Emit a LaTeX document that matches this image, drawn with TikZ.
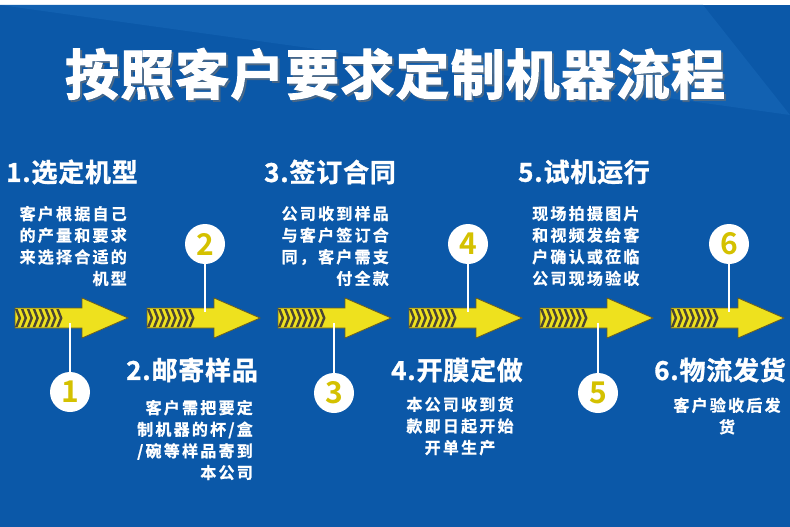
\documentclass[tikz,border=0pt]{standalone}
\usepackage{fontspec}
\setmainfont{Noto Sans CJK SC}[BoldFont={* Bold}]
\newfontfamily\titlefont{Noto Sans CJK SC}[BoldFont={* Bold},BoldFeatures={FakeBold=2},LetterSpace=2]
\newfontfamily\headfont{Noto Sans CJK SC}[BoldFont={* Bold},BoldFeatures={FakeBold=1.2},LetterSpace=3]
\newfontfamily\descfont{Noto Sans CJK SC}[BoldFont={* Bold},BoldFeatures={FakeBold=1},LetterSpace=14]
\definecolor{bgblue}{HTML}{0B58A8}
\definecolor{bglight}{HTML}{1261B1}
\definecolor{arrowyellow}{HTML}{EEE11E}
\definecolor{arrowedge}{HTML}{6B5E22}
\definecolor{chevdark}{HTML}{4A4535}
\definecolor{numyellow}{HTML}{D4C100}
\begin{document}
\begin{tikzpicture}[x=1pt,y=-1pt,
  titletext/.style={font=\titlefont\bfseries\fontsize{54}{60}\selectfont, inner sep=0},
  heading/.style={font=\headfont\bfseries\fontsize{26}{30}\selectfont, text=white, inner sep=0},
  desc/.style={font=\descfont\bfseries\fontsize{16}{21.6}\selectfont, text=white, inner sep=0},
  stepnum/.style={circle, fill=white, minimum size=40pt, inner sep=0,
    font=\bfseries\fontsize{30}{30}\selectfont, text=numyellow},
  link/.style={draw=white, line width=2pt},
  arrowbody/.style={fill=arrowyellow, draw=arrowedge, line width=0.8pt},
  chevron/.style={fill=chevdark}
]
\useasboundingbox (0,0) rectangle (790,527);
% background
\fill[white] (0,0) rectangle (790,527);
\fill[bgblue] (0,5) rectangle (790,527);
\fill[bglight] (0,5) -- (703,5) -- (790,115) -- cycle;

% title with shadow
\node[titletext, text=black!55, opacity=0.5] at (397,76) {按照客户要求定制机器流程};
\node[titletext, text=white] (title) at (395,74) {按照客户要求定制机器流程};

% arrows
\foreach \x/\n in {15/1,147/2,278/3,409/4,540/5,671/6}{
  \filldraw[arrowbody] (\x,308) -- (\x+67,308) -- (\x+67,298) -- (\x+113,318)
     -- (\x+67,338) -- (\x+67,328) -- (\x,328) -- cycle;
  \foreach \k in {0,...,7}{
    \fill[chevron] ({\x+\k*5.9},309) -- ++(2.6,0) -- ++(3.6,9) -- ++(-3.6,9)
       -- ++(-2.6,0) -- ++(3.6,-9) -- cycle;
  }
}

% attach points on arrows
\coordinate (a1) at (70,323);
\coordinate (a2) at (205,312);
\coordinate (a3) at (334,323);
\coordinate (a4) at (468,312);
\coordinate (a5) at (598,323);
\coordinate (a6) at (729,312);

% numbered circles
\node[stepnum] (c1) at (70,392) {1};
\node[stepnum] (c2) at (205,244) {2};
\node[stepnum] (c3) at (334,393) {3};
\node[stepnum] (c4) at (468,244) {4};
\node[stepnum] (c5) at (598,393) {5};
\node[stepnum] (c6) at (729,244) {6};

\draw[link] (c1) -- (a1);
\draw[link] (c2) -- (a2);
\draw[link] (c3) -- (a3);
\draw[link] (c4) -- (a4);
\draw[link] (c5) -- (a5);
\draw[link] (c6) -- (a6);

% headings
\node[heading] (h1) at (72,172) {1.选定机型};
\node[heading] (h3) at (330,172) {3.签订合同};
\node[heading] (h5) at (584,172) {5.试机运行};
\node[heading] (h2) at (192,370) {2.邮寄样品};
\node[heading] (h4) at (457,370) {4.开膜定做};
\node[heading] (h6) at (720,370) {6.物流发货};

% descriptions
\node[desc, align=right, anchor=east] (d1) at (127,246)
  {客户根据自己\\的产量和要求\\来选择合适的\\机型};
\node[desc, align=right, anchor=east] (d2) at (253,440)
  {客户需把要定\\制机器的杯/盒\\/碗等样品寄到\\本公司};
\node[desc, align=right, anchor=east] (d3) at (389,246)
  {公司收到样品\\与客户签订合\\同，客户需支\\付全款};
\node[desc, align=center] (d4) at (460,426)
  {本公司收到货\\款即日起开始\\开单生产};
\node[desc, align=left, anchor=west] (d5) at (532,246)
  {现场拍摄图片\\和视频发给客\\户确认或莅临\\公司现场验收};
\node[desc, align=center] (d6) at (727,416)
  {客户验收后发\\货};
\end{tikzpicture}
\end{document}
